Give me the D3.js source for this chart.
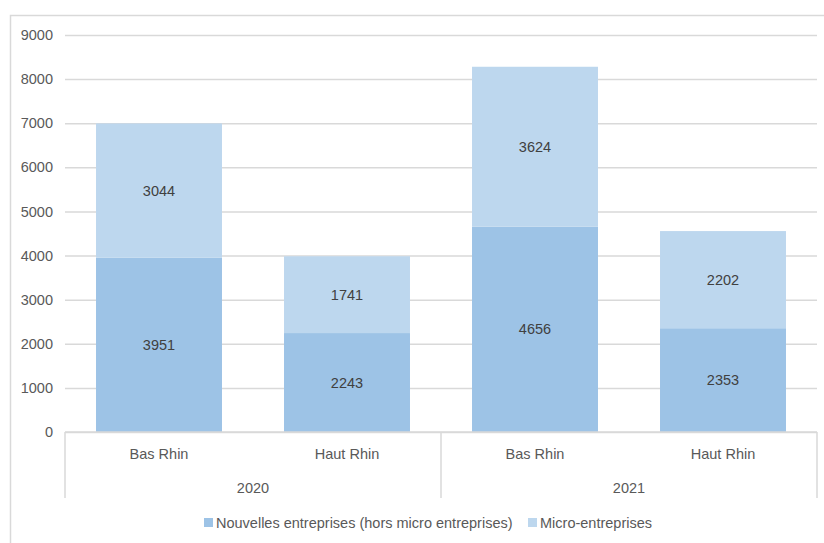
<!DOCTYPE html>
<html><head><meta charset="utf-8">
<script src="https://cdn.jsdelivr.net/npm/d3@7"></script>
<style>html,body{margin:0;padding:0;background:#fff;}svg{display:block;}</style>
</head><body>
<svg id="c" width="824" height="543"></svg>
<script>
const years = ["2020", "2020", "2021", "2021"];
const departments = ["Bas Rhin", "Haut Rhin", "Bas Rhin", "Haut Rhin"];
const categories = ["2020|Bas Rhin", "2020|Haut Rhin", "2021|Bas Rhin", "2021|Haut Rhin"];
const nouvelles = [3951, 2243, 4656, 2353];
const micro = [3044, 1741, 3624, 2202];
const seriesNames = ["Nouvelles entreprises (hors micro entreprises)", "Micro-entreprises"];
const yTicks = [0, 1000, 2000, 3000, 4000, 5000, 6000, 7000, 8000, 9000];
const groups = ["2020", "2021"];

const colors = ["#9dc3e6", "#bdd7ee"];
const svg = d3.select("#c");
const font = "Liberation Sans, Arial, sans-serif";

// outer border
svg.append("rect").attr("x", 10.5).attr("y", 15.5).attr("width", 830).attr("height", 540)
  .attr("fill", "none").attr("stroke", "#d9d9d9").attr("stroke-width", 1.5);

const L = 65, R = 817, T = 35, B = 432;
const x = d3.scaleBand().domain(categories).range([L, R]).paddingInner(0.33).paddingOuter(0.165);
const y = d3.scaleLinear().domain([0, 9000]).range([B, T]);

// gridlines
const yAxis = d3.axisLeft(y).tickValues(yTicks).tickSize(-(R - L)).tickFormat(d3.format("d"));
const gy = svg.append("g").attr("transform", `translate(${L},0)`).call(yAxis);
gy.select(".domain").remove();
gy.selectAll(".tick line").attr("stroke", "#d9d9d9").attr("stroke-width", 1.5);
gy.selectAll(".tick text").attr("x", -12).attr("fill", "#595959")
  .style("font-family", font).style("font-size", "14.5px");

// stacked data
const rows = categories.map((c, i) => ({cat: c, nouvelles: nouvelles[i], micro: micro[i]}));
const stack = d3.stack().keys(["nouvelles", "micro"])(rows);

stack.forEach((s, si) => {
  const g = svg.append("g");
  g.selectAll("rect").data(s).join("rect")
    .attr("x", d => x(d.data.cat))
    .attr("width", x.bandwidth())
    .attr("y", d => y(d[1]))
    .attr("height", d => y(d[0]) - y(d[1]))
    .attr("fill", colors[si]);
  g.selectAll("text").data(s).join("text")
    .attr("x", d => x(d.data.cat) + x.bandwidth() / 2)
    .attr("y", d => (y(d[0]) + y(d[1])) / 2)
    .attr("dy", "0.35em")
    .attr("text-anchor", "middle")
    .attr("fill", "#404040")
    .style("font-family", font).style("font-size", "14.5px")
    .text(d => d[1] - d[0]);
});

// bottom axis baseline
svg.append("line").attr("x1", L).attr("x2", R).attr("y1", B).attr("y2", B)
  .attr("stroke", "#d9d9d9").attr("stroke-width", 1.5);

// category labels via band axis
const xAxis = d3.axisBottom(x).tickSize(0).tickFormat((d, i) => departments[i]);
const gx = svg.append("g").attr("transform", `translate(0,${B})`).call(xAxis);
gx.select(".domain").remove();
gx.selectAll(".tick text").attr("y", 22).attr("dy", "0.35em").attr("fill", "#595959")
  .style("font-family", font).style("font-size", "14.5px");

// group separators and labels
const step = x.step();
const groupScale = d3.scaleBand().domain(groups).range([L, R]);
const seps = [L, L + (R - L) / 2, R];
svg.selectAll(".sep").data(seps).join("line")
  .attr("x1", d => d).attr("x2", d => d).attr("y1", B).attr("y2", 498)
  .attr("stroke", "#d9d9d9").attr("stroke-width", 1.5);
svg.selectAll(".grp").data(groups).join("text")
  .attr("x", d => groupScale(d) + groupScale.bandwidth() / 2)
  .attr("y", 488).attr("dy", "0.35em").attr("text-anchor", "middle")
  .attr("fill", "#595959").style("font-family", font).style("font-size", "14.5px")
  .text(d => d);

// legend
const legX = [204, 528];
const leg = svg.append("g");
seriesNames.forEach((n, i) => {
  leg.append("rect").attr("x", legX[i]).attr("y", 518).attr("width", 9).attr("height", 9).attr("fill", colors[i]);
  leg.append("text").attr("x", legX[i] + 12).attr("y", 523).attr("dy", "0.35em")
    .attr("fill", "#595959").style("font-family", font).style("font-size", "14.5px").text(n);
});
</script>
</body></html>
